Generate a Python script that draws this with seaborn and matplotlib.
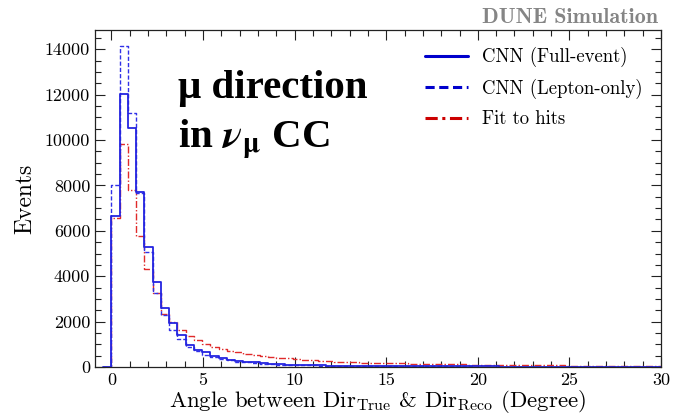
import numpy as np
import pandas as pd
import matplotlib
matplotlib.use("Agg")
import matplotlib.pyplot as plt
from matplotlib.lines import Line2D
from matplotlib.ticker import MultipleLocator, FuncFormatter
import seaborn as sns

# Angular resolution histograms (events per 0.45 degree bin, starting at 0)
bin_width = 0.45
full_event = [6640, 12050, 10550, 7700, 5280, 3740, 2600, 1930, 1420, 990,
              770, 640, 500, 400, 330, 280, 235, 200, 170, 145,
              125, 110, 97, 87, 78, 70, 64, 59, 55, 51,
              48, 45, 42, 40, 38, 36, 34, 32, 31, 30,
              29, 28, 27, 26, 25, 24, 23, 22, 22, 21,
              21, 20, 20, 19, 19, 18, 18, 17, 17, 16,
              16, 16, 15, 15, 15, 14, 14]
lepton_only = [8030, 14150, 11200, 7650, 5060, 3260, 2300, 1650, 1240, 890,
               700, 550, 440, 355, 290, 240, 200, 170, 145, 125,
               108, 95, 84, 75, 67, 61, 56, 52, 48, 45,
               42, 39, 37, 35, 33, 31, 30, 29, 28, 27,
               26, 25, 24, 23, 22, 21, 21, 20, 20, 19,
               19, 18, 18, 17, 17, 16, 16, 15, 15, 15,
               14, 14, 14, 13, 13, 13, 12]
fit_to_hits = [6550, 9820, 7800, 5780, 4300, 3250, 2350, 1970, 1650, 1360,
               1200, 1030, 900, 800, 720, 650, 590, 540, 490, 450,
               410, 375, 335, 310, 290, 270, 252, 236, 222, 210,
               198, 188, 178, 170, 162, 155, 148, 141, 135, 129,
               123, 118, 113, 108, 104, 100, 96, 92, 88, 84,
               81, 78, 75, 72, 69, 66, 63, 61, 59, 57,
               55, 53, 51, 49, 48, 46, 45]
series_labels = ["CNN (Full-event)", "CNN (Lepton-only)", "Fit to hits"]

sns.set_theme(style="ticks")
plt.rcParams["font.family"] = ["cmr10"]
plt.rcParams["mathtext.fontset"] = "cm"
plt.rcParams["axes.unicode_minus"] = False
plt.rcParams["axes.formatter.use_mathtext"] = True
plt.rcParams["text.color"] = "black"
plt.rcParams["axes.labelcolor"] = "black"
plt.rcParams["xtick.color"] = "black"
plt.rcParams["ytick.color"] = "black"

n_bins = len(full_event)
# one empty bin below zero so the outline rises from the baseline at 0 degrees
centers = (np.arange(-1, n_bins) + 0.5) * bin_width

df = pd.DataFrame({
    "angle": np.tile(centers, 3),
    "events": np.concatenate([[0], full_event, [0], lepton_only,
                              [0], fit_to_hits]).astype(float),
    "method": np.repeat(series_labels, n_bins + 1),
})

fig = plt.figure(figsize=(6.73, 4.17), dpi=100)
ax = fig.add_axes([95 / 673, 50 / 417, 566 / 673, 337 / 417])

styles = {
    "CNN (Full-event)": dict(color="#2424e0", linestyle="-", linewidth=1.3),
    "CNN (Lepton-only)": dict(color="#3030e8", linestyle=(0, (3, 1.5)), linewidth=1.0),
    "Fit to hits": dict(color="#e02a2a", linestyle=(0, (5, 1.5, 1, 1.5)), linewidth=1.0),
}
for name in ["Fit to hits", "CNN (Lepton-only)", "CNN (Full-event)"]:
    sub = df[df["method"] == name]
    sns.histplot(data=sub, x="angle", weights="events", binwidth=bin_width,
                 binrange=(-bin_width, n_bins * bin_width), element="step",
                 fill=False, ax=ax, **styles[name])

ax.set_xlim(-0.9, 30)
ax.set_ylim(0, 14850)
ax.xaxis.set_major_locator(MultipleLocator(5))
ax.xaxis.set_minor_locator(MultipleLocator(1))
ax.yaxis.set_major_locator(MultipleLocator(2000))
ax.yaxis.set_minor_locator(MultipleLocator(500))
ax.xaxis.set_major_formatter(FuncFormatter(lambda v, p: f"{v:.0f}"))
ax.yaxis.set_major_formatter(FuncFormatter(lambda v, p: f"{v:.0f}"))
ax.tick_params(which="both", direction="in", top=True, right=True,
               labelsize=13, color="#222222")
ax.tick_params(which="major", length=7, width=0.8)
ax.tick_params(which="minor", length=4, width=0.8)
ax.tick_params(axis="x", pad=4)
for s in ax.spines.values():
    s.set_linewidth(0.9)
    s.set_color("#222222")

ax.set_xlabel(r"Angle between Dir$_{\rm True}$ & Dir$_{\rm Reco}$ (Degree)",
              fontsize=16.4, labelpad=0)
ax.set_ylabel("Events", fontsize=17, labelpad=6)

handles = [
    Line2D([], [], color="#0000cc", linestyle="-", linewidth=2.2),
    Line2D([], [], color="#0000cc", linestyle=(0, (3, 1.5)), linewidth=2.2),
    Line2D([], [], color="#cc0000", linestyle=(0, (4, 1.5, 1, 1.5)), linewidth=2.2),
]
ax.legend(handles, series_labels, loc="upper left",
          bbox_to_anchor=((425 - 95) / 566, (367 - 47) / 337),
          borderpad=0, borderaxespad=0, frameon=False, fontsize=13.5,
          handlelength=2.3, labelspacing=0.62, handletextpad=0.75)

ax.text((178 - 95) / 566, (367 - 98) / 337, "\u03bc direction", transform=ax.transAxes,
        fontsize=29.5, fontweight="bold", family="Liberation Serif", va="baseline",
        color="black")
ax.text((178 - 95) / 566, (367 - 148) / 337, r"in $\mathbfit{\nu}_{\mathbf{\mu}}$ CC",
        transform=ax.transAxes, fontsize=29.5, fontweight="bold",
        family="Liberation Serif", math_fontfamily="stix", va="baseline",
        color="black")

fig.text(658 / 673, 1 - 17.5 / 417, "DUNE Simulation", ha="right", va="center",
         fontsize=15.8, color="#858585", family="cmb10")

fig.savefig("out.png", dpi=100)
